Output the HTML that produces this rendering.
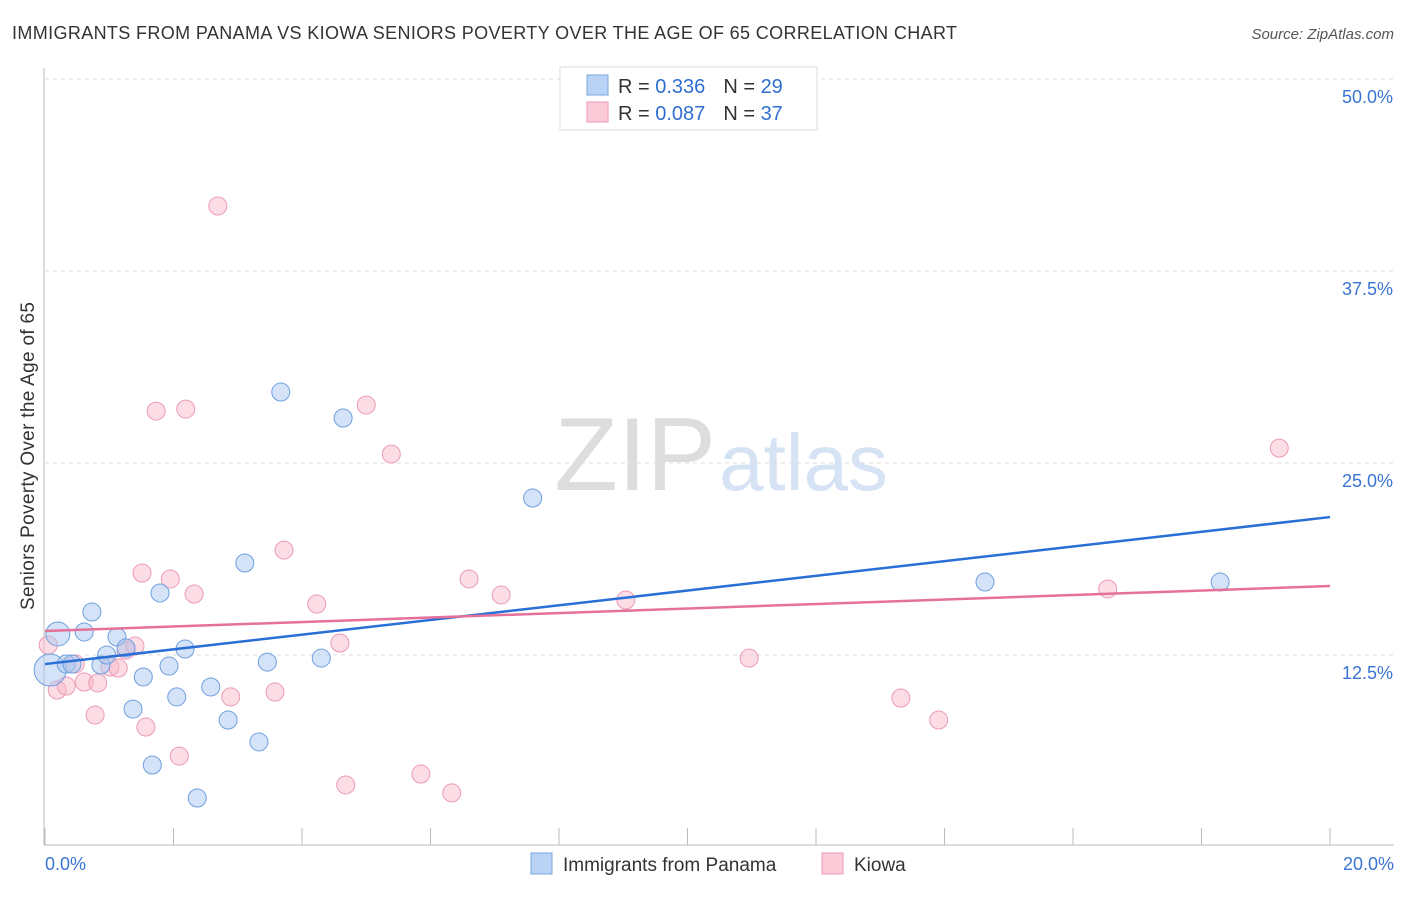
<!DOCTYPE html>
<html><head><meta charset="utf-8"><style>
body{margin:0;background:#fff;font-family:"Liberation Sans",sans-serif}
svg text{font-family:"Liberation Sans",sans-serif}
</style></head><body>
<svg id="chart" width="1406" height="892">
<text x="12" y="39" font-size="18" fill="#333" textLength="945">IMMIGRANTS FROM PANAMA VS KIOWA SENIORS POVERTY OVER THE AGE OF 65 CORRELATION CHART</text>
<text x="1394" y="39" font-size="15" fill="#555" font-style="italic" text-anchor="end">Source: ZipAtlas.com</text>
<text x="716" y="490" font-size="104" fill="#ddd" text-anchor="end" font-family="Liberation Serif">ZIP</text>
<text x="719" y="490" font-size="80" fill="#d5e3f5">atlas</text>
<g id="grid"></g><g id="axes"></g><g id="marks"></g>
<text transform="translate(34,456) rotate(-90)" font-size="19" fill="#333" text-anchor="middle" textLength="308">Seniors Poverty Over the Age of 65</text>
<g>
<rect x="560" y="67" width="257" height="63" fill="#fff" stroke="#ddd"/>
<rect x="587" y="75" width="21" height="20" fill="#b8d3f5" stroke="#7aa7e0"/>
<rect x="587" y="102" width="21" height="20" fill="#fbcad8" stroke="#ec9ab2"/>
<text x="618" y="93" font-size="20" fill="#333">R = <tspan fill="#2f6fd1">0.336</tspan><tspan dx="18">N = </tspan><tspan fill="#2f6fd1">29</tspan></text>
<text x="618" y="120" font-size="20" fill="#333">R = <tspan fill="#2f6fd1">0.087</tspan><tspan dx="18">N = </tspan><tspan fill="#2f6fd1">37</tspan></text>
</g>
<g>
<rect x="531" y="853" width="21" height="21" fill="#b8d3f5" stroke="#7aa7e0"/>
<text x="563" y="871" font-size="19" fill="#333">Immigrants from Panama</text>
<rect x="822" y="853" width="21" height="21" fill="#fbcad8" stroke="#ec9ab2"/>
<text x="854" y="871" font-size="19" fill="#333">Kiowa</text>
</g>
</svg>
<script>
const blueX=[0.20,0.08,0.33,0.42,0.61,0.73,0.87,0.96,1.12,1.26,1.37,1.53,1.67,1.79,1.93,2.05,2.18,2.37,2.58,2.85,3.11,3.33,3.46,3.67,4.30,4.64,7.59,14.63,18.29];
const blueY=[13.87,11.52,11.91,11.91,14.0,15.3,11.85,12.5,13.67,12.96,8.98,11.07,5.34,16.54,11.78,9.77,12.89,3.19,10.42,8.27,18.49,6.84,12.04,29.62,12.3,27.93,22.72,17.25,17.25];
const blueR=[12,16,9,9,9,9,9,9,9,9,9,9,9,9,9,9,9,9,9,9,9,9,9,9,9,9,9,9,9];
const pinkX=[0.05,0.19,0.33,0.47,0.61,0.78,0.82,1.01,1.14,1.26,1.40,1.51,1.57,1.73,1.95,2.09,2.19,2.32,2.69,2.89,3.58,3.72,4.23,4.59,4.68,5.00,5.39,5.85,6.33,6.60,7.10,9.04,10.96,13.32,13.91,16.54,19.21];
const pinkY=[13.15,10.22,10.48,11.91,10.74,8.59,10.68,11.72,11.65,12.82,13.09,17.84,7.81,28.38,17.45,5.92,28.51,16.47,41.73,9.77,10.09,19.33,15.82,13.28,4.04,28.77,25.58,4.75,3.52,17.45,16.41,16.08,12.3,9.7,8.27,16.8,25.97];
const blueTrend=[11.91,21.48];
const pinkTrend=[14.06,16.99];
const yTicks=[12.5,25,37.5,50];
const xTicks=[0,2,4,6,8,10,12,14,16,18,20];
const NS='http://www.w3.org/2000/svg';
const sx=v=>45+v*1285/20, sy=v=>847-v*192/12.5;
function mk(parent,tag,attrs){const e=document.createElementNS(NS,tag);for(const k in attrs)e.setAttribute(k,attrs[k]);document.getElementById(parent).appendChild(e);return e;}
yTicks.forEach(t=>{
 const l=mk('grid','line',{x1:45,x2:1394,y1:sy(t),y2:sy(t),stroke:'#ddd','stroke-dasharray':'4,4'});
 
 
 const tx=mk('grid','text',{x:1393,y:sy(t)+24,'font-size':18,fill:'#3a74d4','text-anchor':'end'});tx.textContent=t.toFixed(1)+'%';
 
 
});
let a=mk('axes','line',{x1:44,x2:44,y1:68,y2:845,stroke:'#bbb'});


a=mk('axes','line',{x1:44,x2:1394,y1:845,y2:845,stroke:'#bbb'});


xTicks.forEach(t=>{const l=mk('axes','line',{x1:sx(t),x2:sx(t),y1:828,y2:845,stroke:'#bbb'});
 
 });
[[0,'0.0%','start',45],[20,'20.0%','end',1394]].forEach(d=>{const t=mk('axes','text',{x:d[3],y:870,'font-size':18,fill:'#3a74d4','text-anchor':d[2]});t.textContent=d[1];
 
 });
pinkX.forEach((x,i)=>{const c=mk('marks','circle',{cx:sx(x),cy:sy(pinkY[i]),r:9,fill:'rgba(248,180,200,0.45)',stroke:'#ec9ab2','stroke-width':1});
 
 });
blueX.forEach((x,i)=>{const c=mk('marks','circle',{cx:sx(x),cy:sy(blueY[i]),r:blueR[i],fill:'rgba(170,200,240,0.5)',stroke:'#6f9fe0','stroke-width':1});
 
 });
let tl=mk('marks','line',{x1:sx(0),x2:sx(20),y1:sy(blueTrend[0]),y2:sy(blueTrend[1]),stroke:'#2a6fd6','stroke-width':2.5});


tl=mk('marks','line',{x1:sx(0),x2:sx(20),y1:sy(pinkTrend[0]),y2:sy(pinkTrend[1]),stroke:'#e5709a','stroke-width':2.5});


</script>
</body></html>
